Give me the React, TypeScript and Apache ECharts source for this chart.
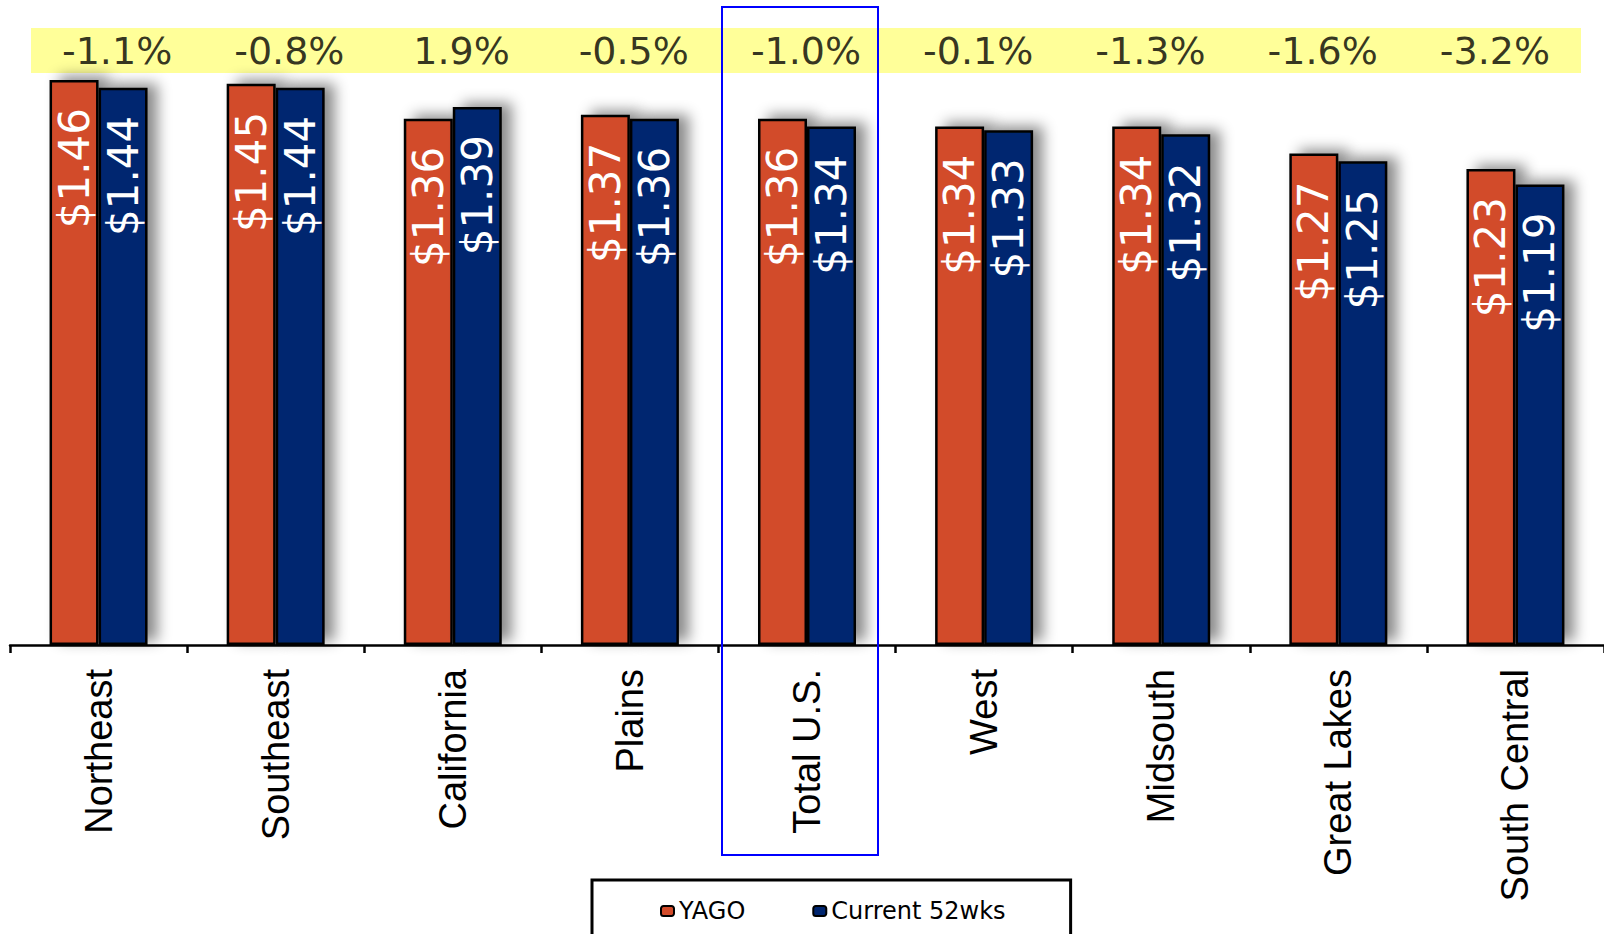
import React, { useEffect, useRef } from "react";
import * as echarts from "echarts";

const categories = ["Northeast", "Southeast", "California", "Plains", "Total U.S.", "West", "Midsouth", "Great Lakes", "South Central"];
const yago = [1.46, 1.45, 1.36, 1.37, 1.36, 1.34, 1.34, 1.27, 1.23];
const current = [1.44, 1.44, 1.39, 1.36, 1.34, 1.33, 1.32, 1.25, 1.19];
const pctChange = ["-1.1%", "-0.8%", "1.9%", "-0.5%", "-1.0%", "-0.1%", "-1.3%", "-1.6%", "-3.2%"];

const ORANGE = "#D24B2A";
const BLUE = "#00256F";

export default function App() {
  const ref = useRef<HTMLDivElement>(null);
  useEffect(() => {
    document.body.style.margin = "0";
    const chart = echarts.init(ref.current!, null, { renderer: "svg" });
    const valueLabel = {
      show: true,
      position: "insideTop",
      rotate: 90,
      align: "right",
      verticalAlign: "middle",
      distance: 28,
      color: "#ffffff",
      fontFamily: "DejaVu Sans",
      fontSize: 42,
      formatter: (p: any) => "$" + p.value.toFixed(2),
    };
    const barItem = (color: string) => ({
      color,
      borderColor: "#000",
      borderWidth: 2.5,
      shadowColor: "rgba(0,0,0,0.45)",
      shadowBlur: 14,
      shadowOffsetX: 10,
      shadowOffsetY: -4,
    });
    chart.setOption({
      animation: false,
      grid: [
        { left: 10, width: 1598, top: 25.8, height: 619.2 },
        { left: 31, width: 1550, top: 28, height: 45, show: true, backgroundColor: "#FFFF99", borderWidth: 0 },
      ],
      xAxis: [
        {
          type: "category",
          gridIndex: 0,
          data: categories,
          axisLine: { lineStyle: { color: "#000", width: 2.5 } },
          axisTick: { show: true, length: 8, lineStyle: { color: "#000", width: 2.5 } },
          axisLabel: {
            rotate: 90,
            margin: 24,
            color: "#000",
            fontFamily: "Liberation Sans",
            fontSize: 38,
            interval: 0,
          },
        },
        { type: "category", gridIndex: 1, data: categories, show: false },
      ],
      yAxis: [
        { type: "value", gridIndex: 0, min: 0, max: 1.6, show: false, splitLine: { show: false } },
        { type: "value", gridIndex: 1, min: 0, max: 1, show: false, splitLine: { show: false } },
      ],
      legend: {
        data: ["YAGO", "Current 52wks"],
        left: 592,
        top: 880,
        orient: "horizontal",
        borderColor: "#000",
        borderWidth: 3,
        padding: [19, 65, 40, 68],
        itemGap: 67,
        itemWidth: 13,
        itemHeight: 10,
        itemStyle: { borderColor: "#000", borderWidth: 2, shadowBlur: 0, shadowOffsetX: 0, shadowOffsetY: 0 },
        textStyle: { fontFamily: "DejaVu Sans", fontSize: 24, color: "#000" },
      },
      series: [
        {
          name: "YAGO",
          type: "bar",
          xAxisIndex: 0,
          yAxisIndex: 0,
          data: yago,
          barWidth: 49,
          barGap: "0%",
          itemStyle: barItem(ORANGE),
          label: valueLabel,
        },
        {
          name: "Current 52wks",
          type: "bar",
          xAxisIndex: 0,
          yAxisIndex: 0,
          data: current,
          barWidth: 49,
          barGap: "0%",
          itemStyle: barItem(BLUE),
          label: valueLabel,
        },
        {
          name: "pct",
          type: "scatter",
          xAxisIndex: 1,
          yAxisIndex: 1,
          symbolSize: 1,
          itemStyle: { color: "rgba(0,0,0,0)" },
          data: pctChange.map((p, i) => [categories[i], 0.5]),
          label: {
            show: true,
            position: "inside",
            color: "#000",
            fontFamily: "DejaVu Sans",
            fontSize: 38,
            formatter: (p: any) => pctChange[p.dataIndex],
          },
          silent: true,
        },
      ],
      graphic: [
        {
          type: "rect",
          shape: { x: 722, y: 7, width: 156, height: 848 },
          style: { fill: "none", stroke: "#0000FF", lineWidth: 2 },
          z: 100,
        },
      ],
    });
    return () => chart.dispose();
  }, []);
  return <div ref={ref} style={{ width: 1604, height: 934 }} />;
}
